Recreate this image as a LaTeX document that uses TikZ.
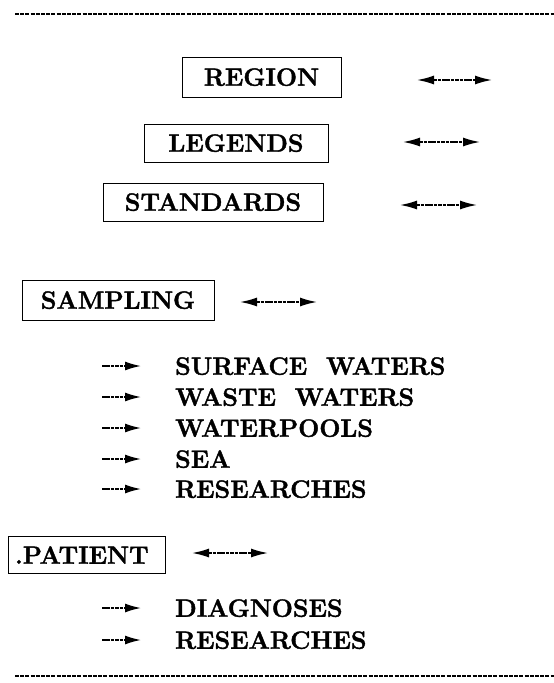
\documentclass[tikz,border=0pt]{standalone}
\usepackage{fontspec}
\setmainfont{Latin Modern Roman}[FakeBold=1.6]
\usetikzlibrary{arrows.meta}
\begin{document}
\begin{tikzpicture}[x=1pt,y=-1pt,
  lbl/.style={font=\fontsize{25}{29}\selectfont\bfseries, inner sep=0pt, text depth=0pt},
  boxed/.style={lbl, draw, line width=1pt},
  rule/.style={line width=1.3pt, dash pattern=on 4pt off 1.2pt},
  dbl/.style={line width=1.6pt, dash pattern=on 3.5pt off 0.9pt, {Latex[length=17pt,width=9pt]}-{Latex[length=17pt,width=9pt]}},
  sgl/.style={line width=1.6pt, dash pattern=on 3.5pt off 0.9pt, -{Latex[length=16pt,width=9pt]}}]
\useasboundingbox (0,0) rectangle (554,683);
% rules
\coordinate (t1) at (15,14); \coordinate (t2) at (554,14);
\coordinate (b1) at (15,676); \coordinate (b2) at (554,676);
\draw[rule] (t1) -- (t2);
\draw[rule] (b1) -- (b2);
% boxes
\node[boxed, minimum width=159pt, minimum height=40pt] (region) at (261.5,77) {REGION};
\node[boxed, minimum width=184pt, minimum height=38pt] (legends) at (236,143) {LEGENDS};
\node[boxed, minimum width=220pt, minimum height=38pt] (standards) at (213,202) {STANDARDS};
\node[boxed, minimum width=192pt, minimum height=40pt] (sampling) at (118,300) {SAMPLING};
\node[boxed, minimum width=157pt, minimum height=37pt, text width=143pt, align=left, inner xsep=7pt] (patient) at (86.5,555) {.PATIENT};
% double arrows
\coordinate (ra1) at (417,80); \coordinate (ra2) at (492,80);
\coordinate (la1) at (403,142); \coordinate (la2) at (480,142);
\coordinate (sa1) at (400,205); \coordinate (sa2) at (477,205);
\coordinate (ma1) at (240,302); \coordinate (ma2) at (317,302);
\coordinate (pa1) at (192,553); \coordinate (pa2) at (268,553);
\draw[dbl] (ra1) -- (ra2);
\draw[dbl] (la1) -- (la2);
\draw[dbl] (sa1) -- (sa2);
\draw[dbl] (ma1) -- (ma2);
\draw[dbl] (pa1) -- (pa2);
% list items
\foreach \name/\txt/\y in {sw/SURFACE\ \ WATERS/366, ww/WASTE\ \ WATERS/397, wp/WATERPOOLS/428, sea/SEA/459, rs/RESEARCHES/489, dg/DIAGNOSES/608, rp/RESEARCHES/640}{
  \node[lbl, anchor=west] (\name) at (175,\y) {\txt};
  \coordinate (\name a) at (102,\y);
  \draw[sgl] (\name a) -- ([xshift=-34pt]\name.west);
}
\end{tikzpicture}
\end{document}
